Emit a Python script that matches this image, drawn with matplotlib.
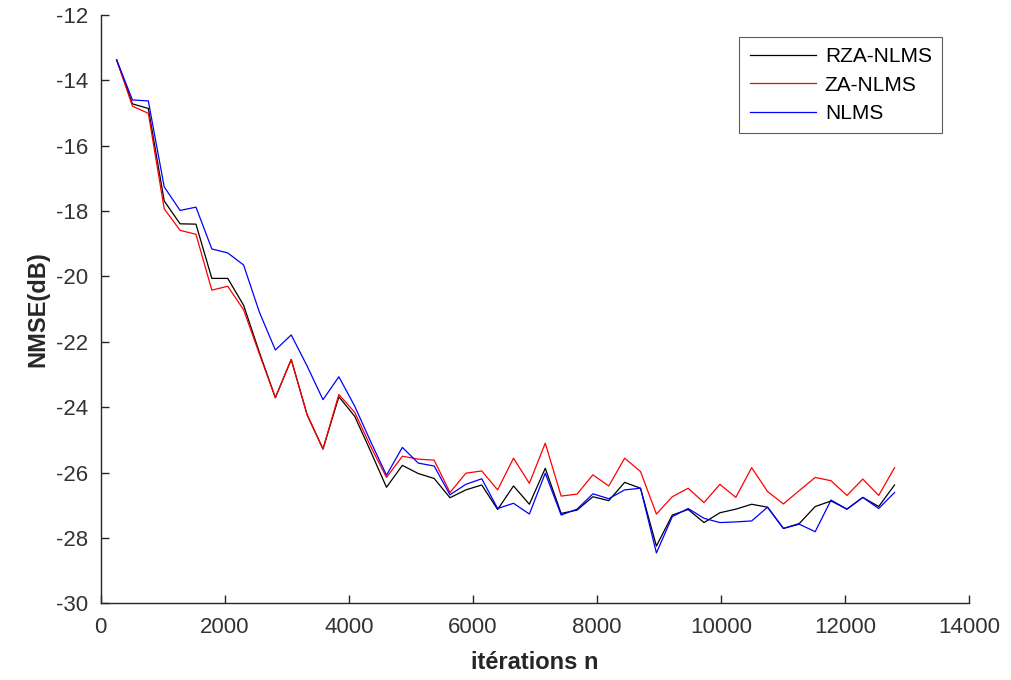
import matplotlib
matplotlib.use("Agg")
import matplotlib.pyplot as plt

plt.rcParams['font.family'] = ['Liberation Sans', 'DejaVu Sans']
plt.rcParams['axes.unicode_minus'] = False

# iteration index of each sample
iterations = [256, 512, 768, 1024, 1280, 1536, 1792, 2048, 2304, 2560,
              2816, 3072, 3328, 3584, 3840, 4096, 4352, 4608, 4864, 5120,
              5376, 5632, 5888, 6144, 6400, 6656, 6912, 7168, 7424, 7680,
              7936, 8192, 8448, 8704, 8960, 9216, 9472, 9728, 9984, 10240,
              10496, 10752, 11008, 11264, 11520, 11776, 12032, 12288, 12544, 12800]

rza_nlms = [-13.37, -14.72, -14.86, -17.69, -18.39, -18.40, -20.06, -20.06, -20.88, -22.33,
            -23.71, -22.54, -24.23, -25.28, -23.68, -24.28, -25.35, -26.45, -25.78, -26.03,
            -26.18, -26.77, -26.53, -26.38, -27.13, -26.41, -26.97, -25.87, -27.25, -27.15,
            -26.74, -26.86, -26.30, -26.48, -28.25, -27.30, -27.13, -27.53, -27.23, -27.12,
            -26.97, -27.06, -27.71, -27.56, -27.04, -26.87, -27.12, -26.76, -27.04, -26.38]

za_nlms = [-13.37, -14.79, -15.01, -17.93, -18.59, -18.71, -20.42, -20.30, -21.02, -22.38,
           -23.71, -22.54, -24.23, -25.28, -23.61, -24.16, -25.20, -26.15, -25.50, -25.59,
           -25.62, -26.61, -26.02, -25.95, -26.53, -25.56, -26.33, -25.10, -26.72, -26.66,
           -26.07, -26.41, -25.56, -25.97, -27.27, -26.74, -26.48, -26.92, -26.36, -26.76,
           -25.85, -26.58, -26.96, -26.55, -26.15, -26.25, -26.70, -26.20, -26.70, -25.85]

nlms = [-13.37, -14.60, -14.63, -17.26, -17.98, -17.88, -19.16, -19.28, -19.65, -21.10,
        -22.25, -21.79, -22.74, -23.77, -23.07, -23.97, -25.05, -26.08, -25.23, -25.71,
        -25.80, -26.68, -26.36, -26.19, -27.10, -26.94, -27.27, -26.02, -27.30, -27.12,
        -26.65, -26.80, -26.53, -26.48, -28.46, -27.35, -27.10, -27.40, -27.53, -27.51,
        -27.48, -27.06, -27.71, -27.58, -27.81, -26.84, -27.12, -26.76, -27.10, -26.61]

fig = plt.figure(figsize=(10.12, 6.8), dpi=100)
ax = fig.add_axes([0.0995, 0.1128, 0.858, 0.8652])

ax.plot(iterations, rza_nlms, color='black', lw=0.9, label='RZA-NLMS')
ax.plot(iterations, za_nlms, color='red', lw=0.9, label='ZA-NLMS')
ax.plot(iterations, nlms, color='blue', lw=0.9, label='NLMS')

ax.set_xlim(0, 14000)
ax.set_ylim(-30, -12)
ax.set_xticks(range(0, 14001, 2000))
ax.set_yticks(range(-30, -11, 2))

for side in ['top', 'right']:
    ax.spines[side].set_visible(False)
for side in ['left', 'bottom']:
    ax.spines[side].set_color('#262626')
    ax.spines[side].set_linewidth(1.0)

ax.tick_params(direction='in', length=6, width=1.0, colors='#262626',
               labelsize=16, labelcolor='#333333')
ax.tick_params(axis='x', pad=10)
ax.tick_params(axis='y', pad=9)

ax.set_xlabel('itérations n', fontsize=17, fontweight='bold', color='#262626', labelpad=9)
ax.set_ylabel('NMSE(dB)', fontsize=17, fontweight='bold', color='#262626', labelpad=5)

leg = ax.legend(loc='upper right', bbox_to_anchor=(0.931, 0.946),
                bbox_transform=fig.transFigure, fontsize=15, frameon=True,
                fancybox=False, handlelength=3.2, handletextpad=0.4,
                borderpad=0.5, labelspacing=0.45, borderaxespad=0)
leg.get_frame().set_edgecolor('#333333')
leg.get_frame().set_linewidth(0.8)

fig.savefig('out.png', dpi=100)
